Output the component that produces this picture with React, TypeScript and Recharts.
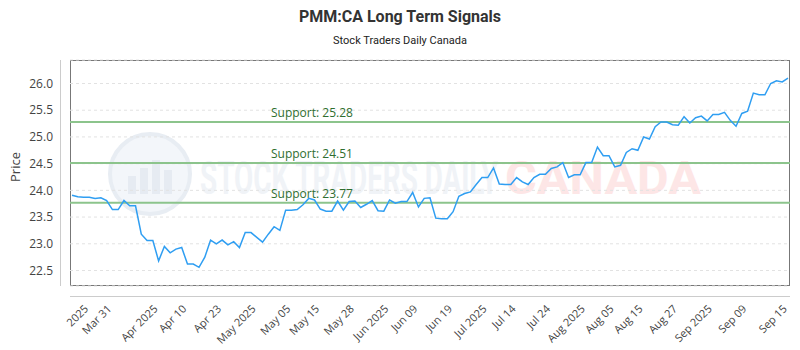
import {
  LineChart,
  Line,
  XAxis,
  YAxis,
  CartesianGrid,
  ReferenceLine,
} from "recharts";

// daily closes (125 trading days)
const prices = [
  23.91, 23.88, 23.87, 23.87, 23.85, 23.86, 23.81, 23.64, 23.64, 23.81,
  23.71, 23.71, 23.18, 23.06, 23.06, 22.68, 22.95, 22.83, 22.9, 22.93,
  22.62, 22.62, 22.56, 22.75, 23.07, 23.0, 23.07, 22.98, 23.04, 22.93,
  23.21, 23.21, 23.12, 23.03, 23.18, 23.32, 23.25, 23.63, 23.63, 23.64,
  23.73, 23.85, 23.82, 23.65, 23.61, 23.61, 23.8, 23.63, 23.79, 23.8,
  23.68, 23.74, 23.81, 23.62, 23.61, 23.82, 23.76, 23.79, 23.79, 23.96,
  23.69, 23.85, 23.86, 23.48, 23.47, 23.47, 23.6, 23.89, 23.94, 23.97,
  24.11, 24.24, 24.24, 24.42, 24.12, 24.11, 24.11, 24.24, 24.16, 24.11,
  24.24, 24.3, 24.3, 24.41, 24.44, 24.52, 24.24, 24.29, 24.29, 24.52,
  24.52, 24.81, 24.65, 24.65, 24.44, 24.47, 24.71, 24.78, 24.75, 25.0,
  24.96, 25.19, 25.28, 25.28, 25.23, 25.22, 25.38, 25.26, 25.36, 25.39,
  25.3, 25.42, 25.42, 25.46, 25.31, 25.2, 25.44, 25.48, 25.82, 25.79,
  25.79, 26.0, 26.05, 26.03, 26.1,
];

const tickIdx = [2, 6, 14, 19, 25, 31, 37, 42, 48, 54, 59, 65, 71, 76, 82, 88, 93, 98, 104, 110, 116, 123];
const tickLabels = [
  "2025", "Mar 31", "Apr 2025", "Apr 10", "Apr 23", "May 2025", "May 05",
  "May 15", "May 28", "Jun 2025", "Jun 09", "Jun 19", "Jul 2025", "Jul 14",
  "Jul 24", "Aug 2025", "Aug 05", "Aug 15", "Aug 27", "Sep 2025", "Sep 09",
  "Sep 15",
];
const yTicks = [22.5, 23.0, 23.5, 24.0, 24.5, 25.0, 25.5, 26.0];
const supports = [25.28, 24.51, 23.77];

const data = prices.map((price, i) => ({ i, price }));

const labelFor = (v: number) => {
  const k = tickIdx.indexOf(v);
  return k >= 0 ? tickLabels[k] : "";
};

const SupportLabel = ({ viewBox, value }: any) => (
  <text
    x={271}
    y={viewBox.y - 5}
    fill="#2f6e2f"
    fontSize={12}
    fontFamily="Open Sans"
  >
    {value}
  </text>
);

const Background = () => (
  <svg width={800} height={350} style={{ position: "absolute", left: 0, top: 0 }}>
    <text x={400} y={22} textAnchor="middle" fontFamily="Roboto" fontWeight="bold" fontSize={16} fill="#333">
      PMM:CA Long Term Signals
    </text>
    <text x={400} y={44} textAnchor="middle" fontFamily="Roboto" fontSize={11} fill="#222">
      Stock Traders Daily Canada
    </text>
    {/* watermark */}
    <g>
      <circle cx={150} cy={174} r={40} fill="#f3f6fa" stroke="#e8edf3" strokeWidth={4} />
      <rect x={128} y={176} width={8} height={18} fill="#e6ebf2" />
      <rect x={140} y={168} width={8} height={26} fill="#e6ebf2" />
      <rect x={152} y={160} width={8} height={34} fill="#e6ebf2" />
      <rect x={164} y={170} width={8} height={24} fill="#e6ebf2" />
      <text x={200} y={194} fontFamily="Roboto" fontWeight="bold" fontSize={46} fill="#f0f3f7" textLength={298} lengthAdjust="spacingAndGlyphs">
        STOCK TRADERS DAILY
      </text>
      <text x={505} y={194} fontFamily="Roboto" fontWeight="bold" fontSize={46} fill="#fde6e6" textLength={196} lengthAdjust="spacingAndGlyphs">
        CANADA
      </text>
    </g>
    {/* plot frame and offset axis lines */}
    <rect x={70.5} y={60.5} width={719} height={225} fill="none" stroke="#777" />
    <line x1={60.5} y1={60} x2={60.5} y2={286} stroke="#ccc" />
    <line x1={70} y1={296.5} x2={790} y2={296.5} stroke="#ccc" />
  </svg>
);

export default function App() {
  return (
    <div style={{ position: "fixed", left: 0, top: 0, width: 800, height: 350, background: "#fff" }}>
      <Background />
      <div style={{ position: "absolute", left: 0, top: 0 }}>
        <LineChart width={800} height={350} data={data} margin={{ top: 60, right: 10, bottom: 0, left: 0 }}>
          <CartesianGrid horizontal vertical={false} strokeDasharray="3 3" stroke="#e2e2e2" />
          <XAxis
            dataKey="i"
            type="number"
            domain={[0, 124]}
            padding={{ left: 2, right: 2 }}
            ticks={tickIdx}
            interval={0}
            tickFormatter={labelFor}
            axisLine={false}
            tickLine={false}
            tickMargin={12}
            angle={-45}
            textAnchor="end"
            height={64}
            tick={{ fontSize: 11, fill: "#444", fontFamily: "Open Sans" }}
          />
          <YAxis
            type="number"
            domain={[22.21, 26.44]}
            ticks={yTicks}
            tickFormatter={(v: number) => v.toFixed(1)}
            axisLine={false}
            tickLine={false}
            tickMargin={11}
            width={70}
            tick={{ fontSize: 12, fill: "#444", fontFamily: "Open Sans" }}
            label={({ viewBox }: any) => (
              <text
                x={20}
                y={viewBox.y + viewBox.height / 2 - 6}
                transform={`rotate(-90 20 ${viewBox.y + viewBox.height / 2 - 6})`}
                textAnchor="middle"
                fontSize={13}
                fill="#444"
                fontFamily="Open Sans"
              >
                Price
              </text>
            )}
          />
          {supports.map((s) => (
            <ReferenceLine
              key={s}
              y={s}
              stroke="#8cc48c"
              strokeWidth={2}
              label={<SupportLabel value={`Support: ${s.toFixed(2)}`} />}
            />
          ))}
          <Line
            type="linear"
            dataKey="price"
            stroke="#2f9ef2"
            strokeWidth={1.5}
            dot={false}
            isAnimationActive={false}
          />
        </LineChart>
      </div>
    </div>
  );
}
